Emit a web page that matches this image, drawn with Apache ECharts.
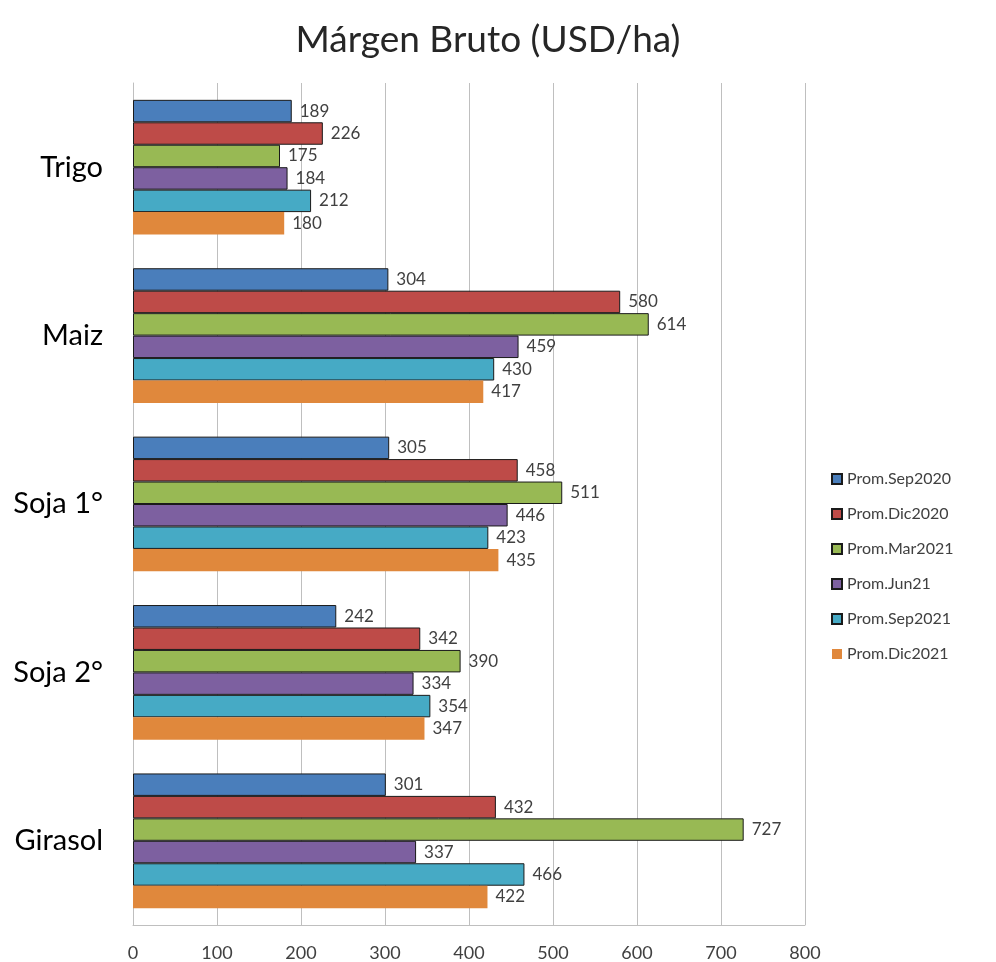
<!DOCTYPE html>
<html>
<head>
<meta charset="utf-8">
<script src="https://cdn.jsdelivr.net/npm/echarts@6/dist/echarts.min.js"></script>
<style>
  html, body { margin: 0; padding: 0; background: #fff; }
  #main { width: 996px; height: 962px; }
</style>
</head>
<body>
<div id="main"></div>
<script>
// categorias y series
var cultivos = ['Trigo', 'Maiz', 'Soja 1°', 'Soja 2°', 'Girasol'];
var seriesNames = ['Prom.Sep2020', 'Prom.Dic2020', 'Prom.Mar2021', 'Prom.Jun21', 'Prom.Sep2021', 'Prom.Dic2021'];
var sep2020 = [189, 304, 305, 242, 301];
var dic2020 = [226, 580, 458, 342, 432];
var mar2021 = [175, 614, 511, 390, 727];
var jun21 = [184, 459, 446, 334, 337];
var sep2021 = [212, 430, 423, 354, 466];
var dic2021 = [180, 417, 435, 347, 422];
var xTicks = [0, 100, 200, 300, 400, 500, 600, 700, 800];

var valores = [sep2020, dic2020, mar2021, jun21, sep2021, dic2021];
var colores = ['#4a7ebb', '#be4b48', '#98b954', '#7d60a0', '#46aac5', '#e0883c'];
var fuente = 'Lato';

var myChart = echarts.init(document.getElementById('main'));

var series = [];
for (let i = 0; i < seriesNames.length; i++) {
    let conBorde = i < 5;
    series.push({
        name: seriesNames[i],
        type: 'bar',
        data: valores[i],
        barGap: '0%',
        barCategoryGap: '20%',
        itemStyle: {
            color: colores[i],
            borderColor: conBorde ? '#1a1a1a' : colores[i],
            borderWidth: conBorde ? 1 : 0
        },
        label: {
            show: true,
            position: 'right',
            distance: 8,
            color: '#404040',
            fontSize: 17,
            fontFamily: fuente
        }
    });
}

var option = {
    animation: false,
    title: {
        text: 'Márgen Bruto (USD/ha)',
        left: 483,
        top: 17,
        textAlign: 'center',
        textStyle: {
            fontSize: 37,
            fontWeight: 'normal',
            color: '#262626',
            fontFamily: fuente
        }
    },
    legend: {
        orient: 'vertical',
        left: 826,
        top: 466,
        itemWidth: 10,
        itemHeight: 10,
        itemGap: 19,
        icon: 'rect',
        data: seriesNames,
        textStyle: {
            fontSize: 16,
            color: '#404040',
            fontFamily: fuente
        }
    },
    grid: {
        left: 133,
        top: 83,
        width: 672,
        height: 843,
        containLabel: false
    },
    xAxis: {
        type: 'value',
        min: xTicks[0],
        max: xTicks[xTicks.length - 1],
        interval: 100,
        axisLine: { show: true, lineStyle: { color: '#bfbfbf' } },
        axisTick: { show: false },
        splitLine: { show: true, lineStyle: { color: '#bfbfbf' } },
        axisLabel: {
            margin: 19,
            fontSize: 18,
            color: '#404040',
            fontFamily: fuente
        }
    },
    yAxis: {
        type: 'category',
        data: cultivos,
        inverse: true,
        axisLine: { show: true, lineStyle: { color: '#bfbfbf' } },
        axisTick: { show: false },
        axisLabel: {
            margin: 30,
            fontSize: 29,
            color: '#000',
            fontFamily: fuente
        }
    },
    series: series
};

myChart.setOption(option);
</script>
</body>
</html>
